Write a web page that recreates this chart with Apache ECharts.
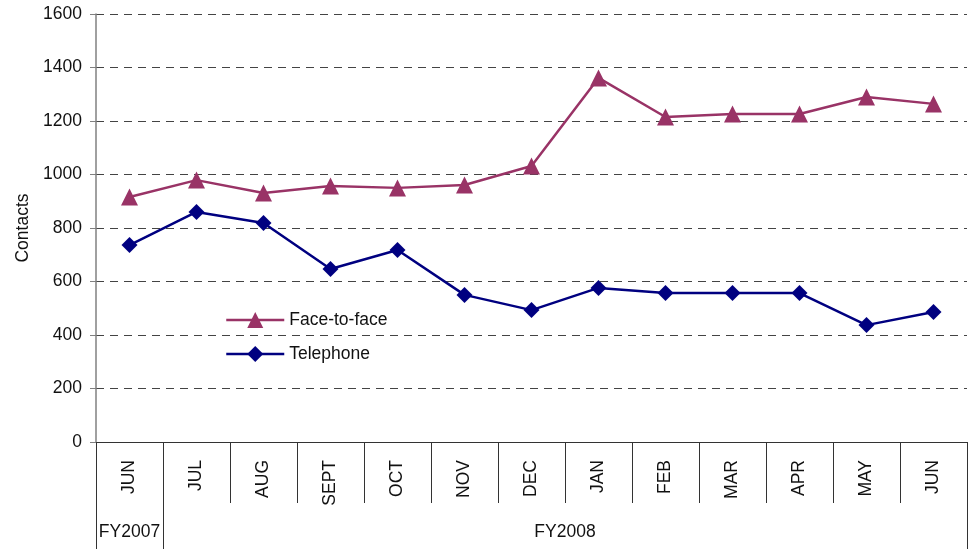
<!DOCTYPE html>
<html><head><meta charset="utf-8">
<script src="https://cdn.jsdelivr.net/npm/echarts@6/dist/echarts.min.js"></script>
<style>html,body{margin:0;padding:0;background:#fff}#c{width:971px;height:549px}</style>
</head><body><div id="c"></div>
<script>
var months = ['JUN','JUL','AUG','SEPT','OCT','NOV','DEC','JAN','FEB','MAR','APR','MAY','JUN'];
var groups = ['FY2007','FY2008'];
var groupSpans = [1, 12];
var faceToFace = [916, 979, 931, 957, 950, 961, 1032, 1361, 1215, 1226, 1226, 1290, 1264];
var telephone = [736, 860, 819, 647, 718, 550, 493, 576, 557, 557, 557, 437, 486];
var yTicks = [0, 200, 400, 600, 800, 1000, 1200, 1400, 1600];

var FONT = '"Liberation Sans", Arial, sans-serif';
var FS = 17.5;
var groupCenters = [], groupEdges = [0], acc = 0;
groupSpans.forEach(function(s){ groupCenters.push(acc + s/2); acc += s; groupEdges.push(acc); });

var chart = echarts.init(document.getElementById('c'), null, {renderer:'canvas'});
chart.setOption({
  animation: false,
  grid: {left: 96, right: 4, top: 14, bottom: 107, containLabel: false},
  legend: {
    orient: 'vertical', left: 220, top: 306, itemGap: 16, itemWidth: 58, itemHeight: 20,
    lineStyle: {width: 2.5},
    textStyle: {fontFamily: FONT, fontSize: FS, color: '#111'},
    data: ['Face-to-face', 'Telephone']
  },
  xAxis: [{
    type: 'category', data: months, boundaryGap: true, position: 'bottom',
    axisLine: {lineStyle: {color: '#333', width: 1}},
    axisTick: {show: true, interval: 0, length: 61, lineStyle: {color: '#333'}},
    axisLabel: {rotate: 90, margin: 18, interval: 0, fontFamily: FONT, fontSize: FS, color: '#111'}
  }, {
    type: 'value', min: 0, max: acc, position: 'bottom', offset: 61,
    axisLine: {show: false},
    splitLine: {show: false},
    axisTick: {show: true, customValues: groupEdges, length: 46, lineStyle: {color: '#333'}},
    axisLabel: {
      customValues: groupCenters, margin: 20, fontFamily: FONT, fontSize: FS, color: '#111',
      formatter: function(v){ var i = groupCenters.indexOf(v); return i >= 0 ? groups[i] : ''; }
    }
  }],
  yAxis: {
    type: 'value', min: yTicks[0], max: yTicks[yTicks.length-1], interval: 200,
    name: 'Contacts', nameLocation: 'middle', nameGap: 58, nameRotate: 90,
    nameTextStyle: {fontFamily: FONT, fontSize: FS, color: '#111'},
    axisLine: {show: true, lineStyle: {color: '#808080', width: 1.5}},
    axisTick: {show: true, length: 6, lineStyle: {color: '#808080'}},
    axisLabel: {margin: 14, fontFamily: FONT, fontSize: FS, color: '#111',
      formatter: function(v){ return String(v); }},
    splitLine: {show: true, lineStyle: {color: '#444', type: [8, 6], width: 1}}
  },
  series: [{
    name: 'Face-to-face', type: 'line', data: faceToFace, xAxisIndex: 0,
    symbol: 'triangle', symbolSize: 17,
    lineStyle: {color: '#993366', width: 2.5},
    itemStyle: {color: '#993366'}
  }, {
    name: 'Telephone', type: 'line', data: telephone, xAxisIndex: 0,
    symbol: 'diamond', symbolSize: 16,
    lineStyle: {color: '#000080', width: 2.5},
    itemStyle: {color: '#000080'}
  }]
});
</script></body></html>
